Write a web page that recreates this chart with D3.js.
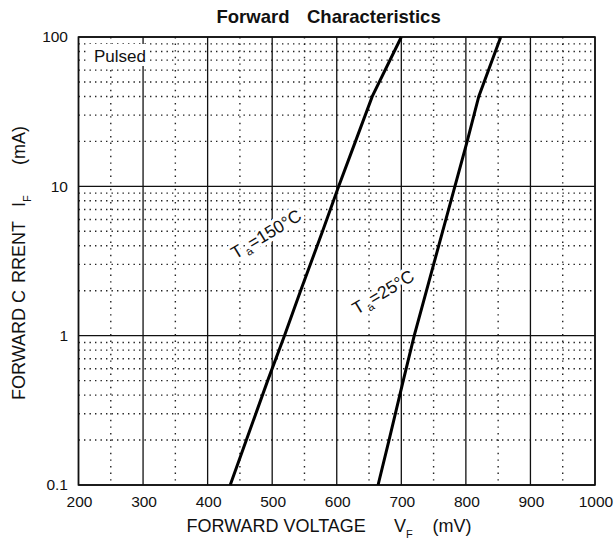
<!DOCTYPE html>
<html>
<head>
<meta charset="utf-8">
<script src="https://cdn.jsdelivr.net/npm/d3@7"></script>
<style>
  body { margin: 0; background: #fff; }
  svg text { font-family: "Liberation Sans", Arial, Helvetica, sans-serif; fill: #111; }
</style>
</head>
<body>
<div id="chart"></div>
<script>
// Data (forward current in mA, forward voltage in mV)
var current_ma = [0.1, 0.2, 0.5, 1, 2, 5, 10, 20, 40, 100];
var vf_150c = [435, 460, 493, 519, 544, 578, 603, 629, 655, 700];
var vf_25c = [664, 681, 703, 720, 739, 764, 783, 802, 820, 854];

var x_ticks = [200, 300, 400, 500, 600, 700, 800, 900, 1000];
var x_minor = [250, 350, 450, 550, 650, 750, 850, 950];
var y_ticks = [0.1, 1, 10, 100];
var y_tick_labels = ["0.1", "1", "10", "100"];

var svg_width = 615;
var svg_height = 543;

var plot = { left: 78.5, right: 595, top: 37, bottom: 485 };

var svg = d3.select("#chart").append("svg")
  .attr("width", svg_width)
  .attr("height", svg_height);

// Scales
var x_scale = d3.scaleLinear().domain([200, 1000]).range([plot.left, plot.right]);
var y_scale = d3.scaleLog().domain([0.1, 100]).range([plot.bottom, plot.top]);

// minor horizontal values 2..9 in every decade
var y_minor = [];
[0.1, 1, 10].forEach(function(dec) {
  for (var m = 2; m <= 9; m++) y_minor.push(+(dec * m).toFixed(3));
});

var grid = svg.append("g");

// Dotted minor grid
grid.selectAll(".hminor").data(y_minor).enter().append("line")
  .attr("x1", plot.left).attr("x2", plot.right)
  .attr("y1", d => y_scale(d)).attr("y2", d => y_scale(d))
  .attr("stroke", "#222").attr("stroke-width", 1.4)
  .attr("stroke-dasharray", "1.4,4.1");

grid.selectAll(".vminor").data(x_minor).enter().append("line")
  .attr("x1", d => x_scale(d)).attr("x2", d => x_scale(d))
  .attr("y1", plot.top).attr("y2", plot.bottom)
  .attr("stroke", "#222").attr("stroke-width", 1.4)
  .attr("stroke-dasharray", "1.4,5.2");

// Solid major grid
grid.selectAll(".vmajor").data(x_ticks).enter().append("line")
  .attr("x1", d => x_scale(d)).attr("x2", d => x_scale(d))
  .attr("y1", plot.top).attr("y2", plot.bottom)
  .attr("stroke", "#111").attr("stroke-width", 1.3);

grid.selectAll(".hmajor").data(y_ticks).enter().append("line")
  .attr("x1", plot.left).attr("x2", plot.right)
  .attr("y1", d => y_scale(d)).attr("y2", d => y_scale(d))
  .attr("stroke", "#111").attr("stroke-width", 1.3);

// Frame
svg.append("rect")
  .attr("x", plot.left).attr("y", plot.top)
  .attr("width", plot.right - plot.left).attr("height", plot.bottom - plot.top)
  .attr("fill", "none").attr("stroke", "#111").attr("stroke-width", 1.6);

// Pulsed note
svg.append("rect")
  .attr("x", 89).attr("y", 44).attr("width", 58).attr("height", 22)
  .attr("fill", "#fff");
svg.append("text")
  .attr("x", 94).attr("y", 62)
  .attr("font-size", "17px")
  .text("Pulsed");

// Curve labels (white halo hides the grid behind them)
function curveLabel(cx, cy, temp) {
  var t = svg.append("text")
    .attr("transform", `translate(${cx},${cy}) rotate(-31)`)
    .attr("text-anchor", "middle")
    .attr("dy", "0.35em")
    .attr("font-size", "17.5px")
    .attr("stroke", "#fff")
    .attr("stroke-width", 7)
    .attr("stroke-linejoin", "round")
    .style("paint-order", "stroke");
  t.append("tspan").text("T");
  t.append("tspan").attr("font-size", "12px").attr("dx", "2").attr("dy", "4").text("a");
  t.append("tspan").attr("dy", "-4").text("=" + temp + "°C");
}
curveLabel(266, 234, "150");
curveLabel(383, 292, "25");

// Curves
var line = d3.line()
  .x(d => x_scale(d[0]))
  .y(d => y_scale(d[1]));

[vf_150c, vf_25c].forEach(function(series) {
  svg.append("path")
    .datum(series.map((v, i) => [v, current_ma[i]]))
    .attr("d", line)
    .attr("fill", "none")
    .attr("stroke", "#000")
    .attr("stroke-width", 3);
});

// Tick labels
svg.selectAll(".xtick").data(x_ticks).enter().append("text")
  .attr("x", d => x_scale(d) + 1)
  .attr("y", 507)
  .attr("text-anchor", "middle")
  .attr("font-size", "15.5px")
  .text(d => d);

svg.selectAll(".ytick").data(y_ticks).enter().append("text")
  .attr("x", 68)
  .attr("y", d => y_scale(d))
  .attr("dy", "0.35em")
  .attr("text-anchor", "end")
  .attr("font-size", "15.5px")
  .text((d, i) => y_tick_labels[i]);

// Title
svg.append("text").attr("x", 216.5).attr("y", 23)
  .attr("font-size", "18.5px").attr("font-weight", "bold").text("Forward");
svg.append("text").attr("x", 307).attr("y", 23)
  .attr("font-size", "18.5px").attr("font-weight", "bold").text("Characteristics");

// X axis label
svg.append("text").attr("x", 186.5).attr("y", 532)
  .attr("font-size", "18px").text("FORWARD VOLTAGE");
var vf = svg.append("text").attr("x", 394).attr("y", 532).attr("font-size", "18px");
vf.append("tspan").text("V");
vf.append("tspan").attr("font-size", "11px").attr("dy", "6").text("F");
svg.append("text").attr("x", 432.5).attr("y", 532)
  .attr("font-size", "18px").text("(mV)");

// Y axis label (pieces placed along the rotated baseline)
function yPiece(ypos, txt, sub) {
  var t = svg.append("text")
    .attr("transform", `translate(25,${ypos}) rotate(-90)`)
    .attr("font-size", "18px");
  t.append("tspan").text(txt);
  if (sub) t.append("tspan").attr("font-size", "11px").attr("dy", "6").text(sub);
}
yPiece(400, "FORWARD C");
yPiece(283, "RRENT");
yPiece(207, "I", "F");
yPiece(165, "(mA)");
</script>
</body>
</html>
